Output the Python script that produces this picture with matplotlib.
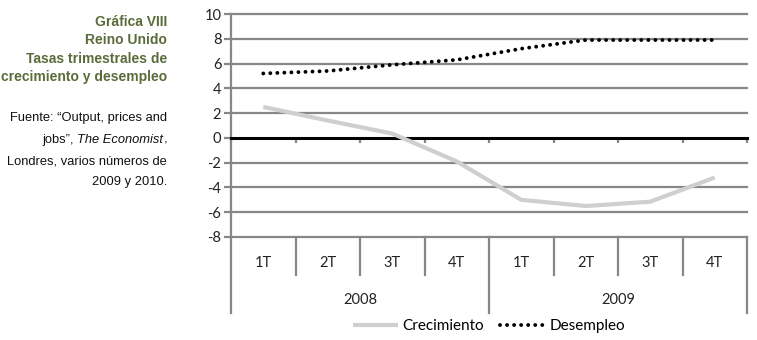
import matplotlib
matplotlib.use('Agg')
import matplotlib.pyplot as plt
import matplotlib.transforms as mtransforms
import numpy as np

plt.rcParams.update({'font.family': ['Lato', 'DejaVu Sans']})

quarters = ['1T', '2T', '3T', '4T', '1T', '2T', '3T', '4T']
years = ['2008', '2009']
crecimiento = [2.5, 1.4, 0.35, -1.9, -5.0, -5.5, -5.15, -3.2]
desempleo = [5.2, 5.4, 5.9, 6.3, 7.2, 7.9, 7.9, 7.9]

title_lines = ['Gráfica VIII', 'Reino Unido', 'Tasas trimestrales de', 'crecimiento y desempleo']

W, H = 757, 340
fig = plt.figure(figsize=(W / 100, H / 100), dpi=100)
ax = fig.add_axes([231 / W, 1 - 237 / H, (747 - 231) / W, (237 - 14) / H])

grid_c = '#878787'
x = np.arange(len(quarters))

# grid
for yv in range(-8, 11, 2):
    if yv == 0:
        continue
    ax.axhline(yv, color=grid_c, lw=1.6, zorder=1, clip_on=False)
ax.axhline(0, color='black', lw=2.2, zorder=3, clip_on=False)
ax.vlines(np.arange(len(quarters) + 1) - 0.5, -0.45, 0, color=grid_c, lw=1.6, zorder=2, clip_on=False)

ax.plot(x, crecimiento, color='#cfcfcf', lw=3, solid_capstyle='butt', zorder=4, label='Crecimiento')
ax.plot(x, desempleo, color='black', lw=2.8, linestyle=(0, (0.01, 1.8)), dash_capstyle='round',
        zorder=5, label='Desempleo')

ax.set_xlim(-0.5, len(quarters) - 0.5)
ax.set_ylim(-8, 10)
ax.set_yticks(range(-8, 11, 2))
ax.set_yticklabels([str(v) for v in range(-8, 11, 2)], fontsize=10.5, color='#222222')
ax.tick_params(axis='y', length=5, width=1.6, color=grid_c, pad=2)
ax.set_xticks([])
for s in ['top', 'right', 'bottom']:
    ax.spines[s].set_visible(False)
ax.spines['left'].set_color(grid_c)
ax.spines['left'].set_linewidth(1.6)

# category table below the plot
tr = mtransforms.blended_transform_factory(ax.transData, fig.transFigure)
y_top = 1 - 237 / H
y_q = 1 - 275 / H
y_y = 1 - 313 / H
for i in range(len(quarters) + 1):
    xb = i - 0.5
    bottom = y_y if i % 4 == 0 else y_q
    ax.plot([xb, xb], [y_top, bottom], color=grid_c, lw=1.6, transform=tr, clip_on=False)
for i, q in enumerate(quarters):
    ax.text(i, 1 - 263 / H, q, transform=tr, ha='center', va='center', fontsize=10.5, color='#222222')
for j, yr in enumerate(years):
    ax.text(j * 4 + 1.5, 1 - 300 / H, yr, transform=tr, ha='center', va='center', fontsize=10.5, color='#222222')

fig.legend(loc='center', bbox_to_anchor=(489 / W, 1 - 326 / H), ncol=2, frameon=False,
           fontsize=11, handlelength=2.95, columnspacing=1.1, handletextpad=0.25)

# left side texts
tc = '#5c6b3a'
for k, (t, yp) in enumerate(zip(title_lines, [22, 40, 59, 77])):
    fig.text(167 / W, 1 - yp / H, t, ha='right', va='center', fontsize=10, fontweight='bold',
             color=tc, family=['Liberation Sans', 'DejaVu Sans'])
src = [(118, [('Fuente: “Output, prices and', 'normal')]),
       (140, [('jobs”, ', 'normal'), ('The Economist', 'italic'), (',', 'normal')]),
       (161, [('Londres, varios números de', 'normal')]),
       (182, [('2009 y 2010.', 'normal')])]
renderer = fig.canvas.get_renderer()
for yp, parts in src:
    xr = 167 / W
    for txt, style in reversed(parts):
        t = fig.text(xr, 1 - yp / H, txt, ha='right', va='center', fontsize=9.3, style=style,
                     color='#111111', family=['Liberation Sans', 'DejaVu Sans'])
        bb = t.get_window_extent(renderer)
        xr -= bb.width / W

fig.savefig('out.png', dpi=100)
